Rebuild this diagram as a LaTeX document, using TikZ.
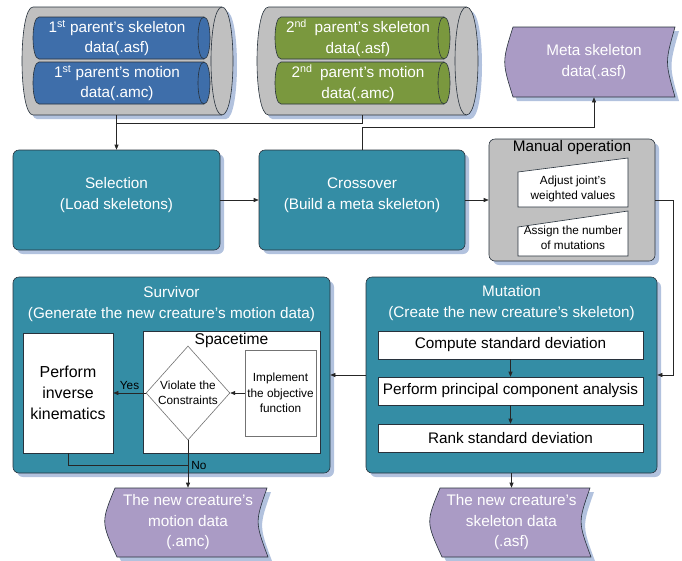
\documentclass[tikz,border=0pt]{standalone}
\usepackage{fontspec}
\setmainfont{Liberation Sans}
\usetikzlibrary{shapes.geometric, shadows, arrows.meta}

\definecolor{cylgray}{RGB}{192,192,192}
\definecolor{parentblue}{RGB}{62,110,170}
\definecolor{parentgreen}{RGB}{122,152,62}
\definecolor{stageteal}{RGB}{52,141,165}
\definecolor{datapurple}{RGB}{170,155,197}
\definecolor{shadowblue}{RGB}{178,194,222}
\definecolor{edgedark}{RGB}{40,50,60}

\tikzset{
  big text/.style={
    font=\fontsize{15.3}{20.5}\selectfont
  },
  small text/.style={
    font=\fontsize{11.8}{15.5}\selectfont
  },
  box shadow/.style={
    drop shadow={shadow xshift=4pt, shadow yshift=-4pt, opacity=1, fill=shadowblue}
  },
  pics/hcyl/.style n args={5}{
    code={
      \draw[draw=edgedark, fill=#4, #5]
        (-#1+#3,-#2) -- (#1-#3,-#2)
        .. controls (#1+0.333*#3,-#2) and (#1+0.333*#3,#2) .. (#1-#3,#2)
        -- (-#1+#3,#2)
        .. controls (-#1-0.333*#3,#2) and (-#1-0.333*#3,-#2) .. (-#1+#3,-#2) -- cycle;
      \draw[draw=edgedark]
        (#1-#3,-#2) .. controls (#1-2.333*#3,-#2) and (#1-2.333*#3,#2) .. (#1-#3,#2);
      \coordinate (-south) at (0,#2);
    }
  },
  cyl text/.style={
    big text,
    text=white,
    align=center
  },
  stage/.style={
    rectangle,
    rounded corners=6pt,
    draw=edgedark,
    fill=stageteal,
    box shadow
  },
  stage text/.style={
    big text,
    text=white,
    align=center
  },
  manual box/.style={
    rectangle,
    rounded corners=6pt,
    draw=edgedark,
    fill=cylgray,
    box shadow
  },
  manual input/.style={
    draw=edgedark,
    fill=white
  },
  data store/.style={
    draw=edgedark,
    fill=datapurple,
    box shadow
  },
  white box/.style={
    rectangle,
    draw=edgedark,
    fill=white,
    align=center
  },
  step box/.style={
    white box,
    big text,
    minimum width=265pt,
    minimum height=28pt,
    inner sep=1pt
  },
  decision/.style={
    diamond,
    draw=black!55,
    fill=white,
    small text,
    align=center,
    inner sep=0pt,
    minimum width=82pt,
    minimum height=94pt
  },
  flow/.style={
    -{Triangle[length=5pt, width=4pt]},
    draw=black!85
  },
  link/.style={
    draw=black!85
  }
}

\begin{document}
\begin{tikzpicture}[x=1pt, y=-1pt, line width=0.6pt]
  \useasboundingbox (0,0) rectangle (682,560);

  %% ---- parents ----
  \pic (par1) at (127.5,61) {hcyl={105.5}{54}{11}{cylgray}{box shadow}};
  \pic (p1sc) at (121.5,38) {hcyl={88.5}{21}{6}{parentblue}{}};
  \pic (p1mc) at (121.5,83) {hcyl={88.5}{21}{6}{parentblue}{}};
  \node[cyl text] (p1s) at (117,38) {1\textsuperscript{st} parent's skeleton\\data(.asf)};
  \node[cyl text] (p1m) at (117,83) {1\textsuperscript{st} parent's motion\\data(.amc)};

  \pic (par2) at (367.5,61) {hcyl={110.5}{54}{11.5}{cylgray}{box shadow}};
  \pic (p2sc) at (362.5,38) {hcyl={87.5}{21}{6}{parentgreen}{}};
  \pic (p2mc) at (362.5,83) {hcyl={87.5}{21}{6}{parentgreen}{}};
  \node[cyl text] (p2s) at (358,38) {2\textsuperscript{nd}\enspace parent's skeleton\\data(.asf)};
  \node[cyl text] (p2m) at (358,83) {2\textsuperscript{nd}\enspace parent's motion\\data(.amc)};

  %% ---- meta skeleton ----
  \draw[data store] (513,27) .. controls (502,62) .. (513,97) -- (675,97)
    .. controls (665,62) .. (675,27) -- cycle
    node[stage text, minimum width=162pt, minimum height=70pt] (meta) at (594,62) {Meta skeleton\\data(.asf)};

  %% ---- selection, crossover ----
  \node[stage, minimum width=207pt, minimum height=100pt] (sel) at (116.5,200) {};
  \node[stage text] (sel-t) at (116.5,195) {Selection\\(Load skeletons)};
  \node[stage, minimum width=206pt, minimum height=100pt] (cross) at (362,200) {};
  \node[stage text] (cross-t) at (362,195) {Crossover\\(Build a meta skeleton)};

  %% ---- manual operation ----
  \node[manual box, minimum width=166pt, minimum height=122pt] (man) at (572,200) {};
  \node[big text] (man-t) at (572,148) {Manual operation};
  \draw[manual input] (518,207) -- (518,172) -- (628,158) -- (628,207) -- cycle
    node[small text, align=center] (adj) at (573,189) {Adjust joint's\\weighted values};
  \draw[manual input] (518,256) -- (518,227) -- (628,211) -- (628,256) -- cycle
    node[small text, align=center] (asg) at (573,238) {Assign the number\\of mutations};

  %% ---- survivor ----
  \node[stage, minimum width=317pt, minimum height=196pt] (surv) at (171.5,375) {};
  \node[stage text] (surv-t) at (171.5,304) {Survivor\\(Generate the new creature's motion data)};
  \node[white box, minimum width=90pt, minimum height=120pt,
        font=\fontsize{15.9}{21}\selectfont] (ik) at (68,393) {Perform\\inverse\\kinematics};
  \node[white box, minimum width=177pt, minimum height=122pt] (st) at (231.5,392) {};
  \node[font=\fontsize{15.6}{18}\selectfont] (st-t) at (231.5,340) {Spacetime};
  \node[decision] (dia) at (188,393) {Violate the\\Constraints};
  \node[white box, draw=black!55, small text, minimum width=71pt, minimum height=86pt,
        inner sep=1pt] (impl) at (280.5,393) {Implement\\the objective\\function};

  %% ---- mutation ----
  \node[stage, minimum width=291pt, minimum height=196pt] (mut) at (511.5,375) {};
  \node[stage text] (mut-t) at (511.5,303) {Mutation\\(Create the new creature's skeleton)};
  \node[step box] (comp) at (510.5,345) {Compute standard deviation};
  \node[step box] (pca)  at (510.5,391) {Perform principal component analysis};
  \node[step box] (rank) at (510.5,438) {Rank standard deviation};

  %% ---- new creature data ----
  \draw[data store] (115,488) .. controls (101,522) .. (117,557) -- (268,557)
    .. controls (255,522) .. (267,488) -- cycle
    node[stage text, minimum width=150pt, minimum height=69pt] (mot) at (188,522.5)
    {The new creature's\\motion data\\(.amc)};
  \draw[data store] (440,488) .. controls (426,522) .. (442,557) -- (591,557)
    .. controls (578,522) .. (590,488) -- cycle
    node[stage text, minimum width=150pt, minimum height=69pt] (skel) at (511.5,522.5)
    {The new creature's\\skeleton data\\(.asf)};

  %% ---- connectors ----
  \draw[flow] (sel.north |- par1-south) -- (sel.north);
  \draw[link] (cross.north |- par2-south) -- ++(0,8) coordinate (join2) -- (join2 -| sel.north);
  \draw[flow] (cross.north) -- ++(0,-22) -| (meta.south);
  \draw[flow] (sel.east) -- (cross.west);
  \draw[flow] (cross.east) -- (man.west);
  \draw[flow] (man.east) -- ++(18,0) |- (mut.east);
  \foreach \a/\b in {comp/pca, pca/rank} {
    \draw[flow] (\a) -- (\b);
  }
  \draw[flow] (mut.west) -- (surv.east);
  \draw[flow] (mut.south) -- (skel.north);
  \draw[flow] (impl.west) -- (dia.east);
  \draw[flow] (dia.west) -- node[above, small text] (yes) {Yes} (ik.east);
  \draw[flow] (dia.south) -- node[pos=0.54, anchor=west, small text, inner sep=3pt] (no) {No} (mot.north);
  \coordinate (nojoin) at (188,465);
  \draw[link] (ik.south) |- (nojoin);

\end{tikzpicture}
\end{document}
